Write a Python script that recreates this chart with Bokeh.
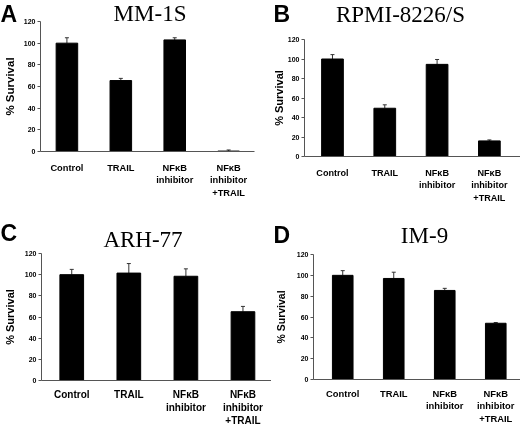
from bokeh.plotting import figure
from bokeh.models import ColumnDataSource, FixedTicker, Label, Whisker, TeeHead, Range1d
from bokeh.embed import file_html
from bokeh.resources import INLINE

# ---- data ----
categories = ["Control", "TRAIL", "NF\u03baB\ninhibitor", "NF\u03baB\ninhibitor\n+TRAIL"]
y_ticks = [0, 20, 40, 60, 80, 100, 120]
positions = [0.5, 1.5, 2.5, 3.5]

panel_letters = ["A", "B", "C", "D"]
panel_titles = ["MM-1S", "RPMI-8226/S", "ARH-77", "IM-9"]

mm1s_vals = [100, 65.5, 103, 0.4]
mm1s_err = [5, 2, 2, 1]

rpmi_vals = [100, 49.5, 94.5, 16]
rpmi_err = [4.5, 3.5, 5, 1]

arh_vals = [100, 101.5, 98.5, 65]
arh_err = [5, 9, 7, 5]

im9_vals = [100, 97, 85.5, 54]
im9_err = [4.5, 6, 2, 0.7]

SANS = "Liberation Sans"
SERIF = "Liberation Serif"
AXIS_GRAY = "#555555"


def place(model, left, top):
    model.styles = {"position": "fixed", "left": f"{left}px", "top": f"{top}px"}


def panel(vals, errs, width, height, left, right, top, bottom,
          xr, bar_w, ylab_size, ylab_standoff, cat_size, cat_standoff, cat_lh):
    p = figure(width=width, height=height, x_range=Range1d(*xr), y_range=Range1d(0, 120),
               output_backend="svg", toolbar_location=None, title=None,
               min_border_left=left, min_border_right=right,
               min_border_top=top, min_border_bottom=bottom,
               outline_line_color=None, background_fill_color=None,
               border_fill_color=None)
    p.grid.visible = False

    p.vbar(x=positions, top=vals, width=bar_w, color="black")
    src = ColumnDataSource(dict(base=positions, lower=vals,
                                upper=[v + e for v, e in zip(vals, errs)]))
    w = Whisker(source=src, base="base", lower="lower", upper="upper",
                upper_head=TeeHead(size=4, line_color="#333333", line_width=1),
                lower_head=None, line_color="#333333", line_width=1)
    p.add_layout(w)

    xa = p.xaxis[0]
    xa.ticker = FixedTicker(ticks=positions)
    xa.major_label_overrides = {pos: c for pos, c in zip(positions, categories)}
    xa.major_tick_line_color = None
    xa.major_tick_out = 0
    xa.major_tick_in = 0
    xa.minor_tick_line_color = None
    xa.minor_tick_out = 0
    xa.major_label_standoff = cat_standoff
    xa.major_label_text_font = SANS
    xa.major_label_text_font_style = "bold"
    xa.major_label_text_font_size = f"{cat_size}px"
    xa.major_label_text_line_height = cat_lh
    xa.major_label_text_color = "black"
    xa.axis_line_color = AXIS_GRAY

    ya = p.yaxis[0]
    ya.ticker = FixedTicker(ticks=y_ticks)
    ya.major_tick_out = 3
    ya.major_tick_in = 0
    ya.minor_tick_line_color = None
    ya.major_tick_line_color = AXIS_GRAY
    ya.axis_line_color = AXIS_GRAY
    ya.major_label_standoff = 2
    ya.major_label_text_font = SANS
    ya.major_label_text_font_style = "bold"
    ya.major_label_text_font_size = "7px"
    ya.major_label_text_color = "black"
    ya.axis_label = "% Survival"
    ya.axis_label_text_font = SANS
    ya.axis_label_text_font_style = "bold"
    ya.axis_label_text_font_size = f"{ylab_size}px"
    ya.axis_label_text_color = "black"
    ya.axis_label_standoff = ylab_standoff
    return p


# background figure holding the panel letters and titles (pixel coordinates)
bg = figure(width=520, height=425, x_range=Range1d(0, 520), y_range=Range1d(425, 0),
            output_backend="svg", toolbar_location=None, title=None,
            x_axis_location=None, y_axis_location=None,
            min_border=0, outline_line_color=None)
bg.grid.visible = False
letter_xy = [(0, 13), (273, 13), (0, 232), (273, 234)]
title_xy = [(149.5, 13), (400, 13.5), (142.5, 238.5), (424, 235.3)]
for let, (lx, ly) in zip(panel_letters, letter_xy):
    bg.add_layout(Label(x=lx, y=ly, text=let, text_font=SANS, text_font_style="bold",
                        text_font_size="23px", text_align="left",
                        text_baseline="middle", text_color="black"))
for ttl, (tx, ty) in zip(panel_titles, title_xy):
    bg.add_layout(Label(x=tx, y=ty, text=ttl, text_font=SERIF, text_font_size="23px",
                        text_align="center", text_baseline="middle",
                        text_color="black"))
place(bg, 0, 0)

pA = panel(mm1s_vals, mm1s_err, 260, 210, 37, 6, 21, 59,
           (0.01, 3.98), 0.40, 11.5, 5, 9.3, 11, 1.25)
pB = panel(rpmi_vals, rpmi_err, 260, 210, 44, 0, 39, 54,
           (-0.035, 4.095), 0.415, 11, 0, 9.1, 11, 1.25)
pC = panel(arh_vals, arh_err, 271, 240, 38, 0, 43, 70,
           (-0.03, 4.0), 0.415, 11, 6, 10, 8, 1.22)
pD = panel(im9_vals, im9_err, 249, 239, 38, 0, 44, 70,
           (-0.073, 3.985), 0.404, 10.5, 7, 9.4, 8, 1.15)
place(pA, 0, 0)
place(pB, 260, 0)
place(pC, 0, 210)
place(pD, 271, 210)

open("out.html", "w").write(file_html([bg, pA, pB, pC, pD], INLINE))
